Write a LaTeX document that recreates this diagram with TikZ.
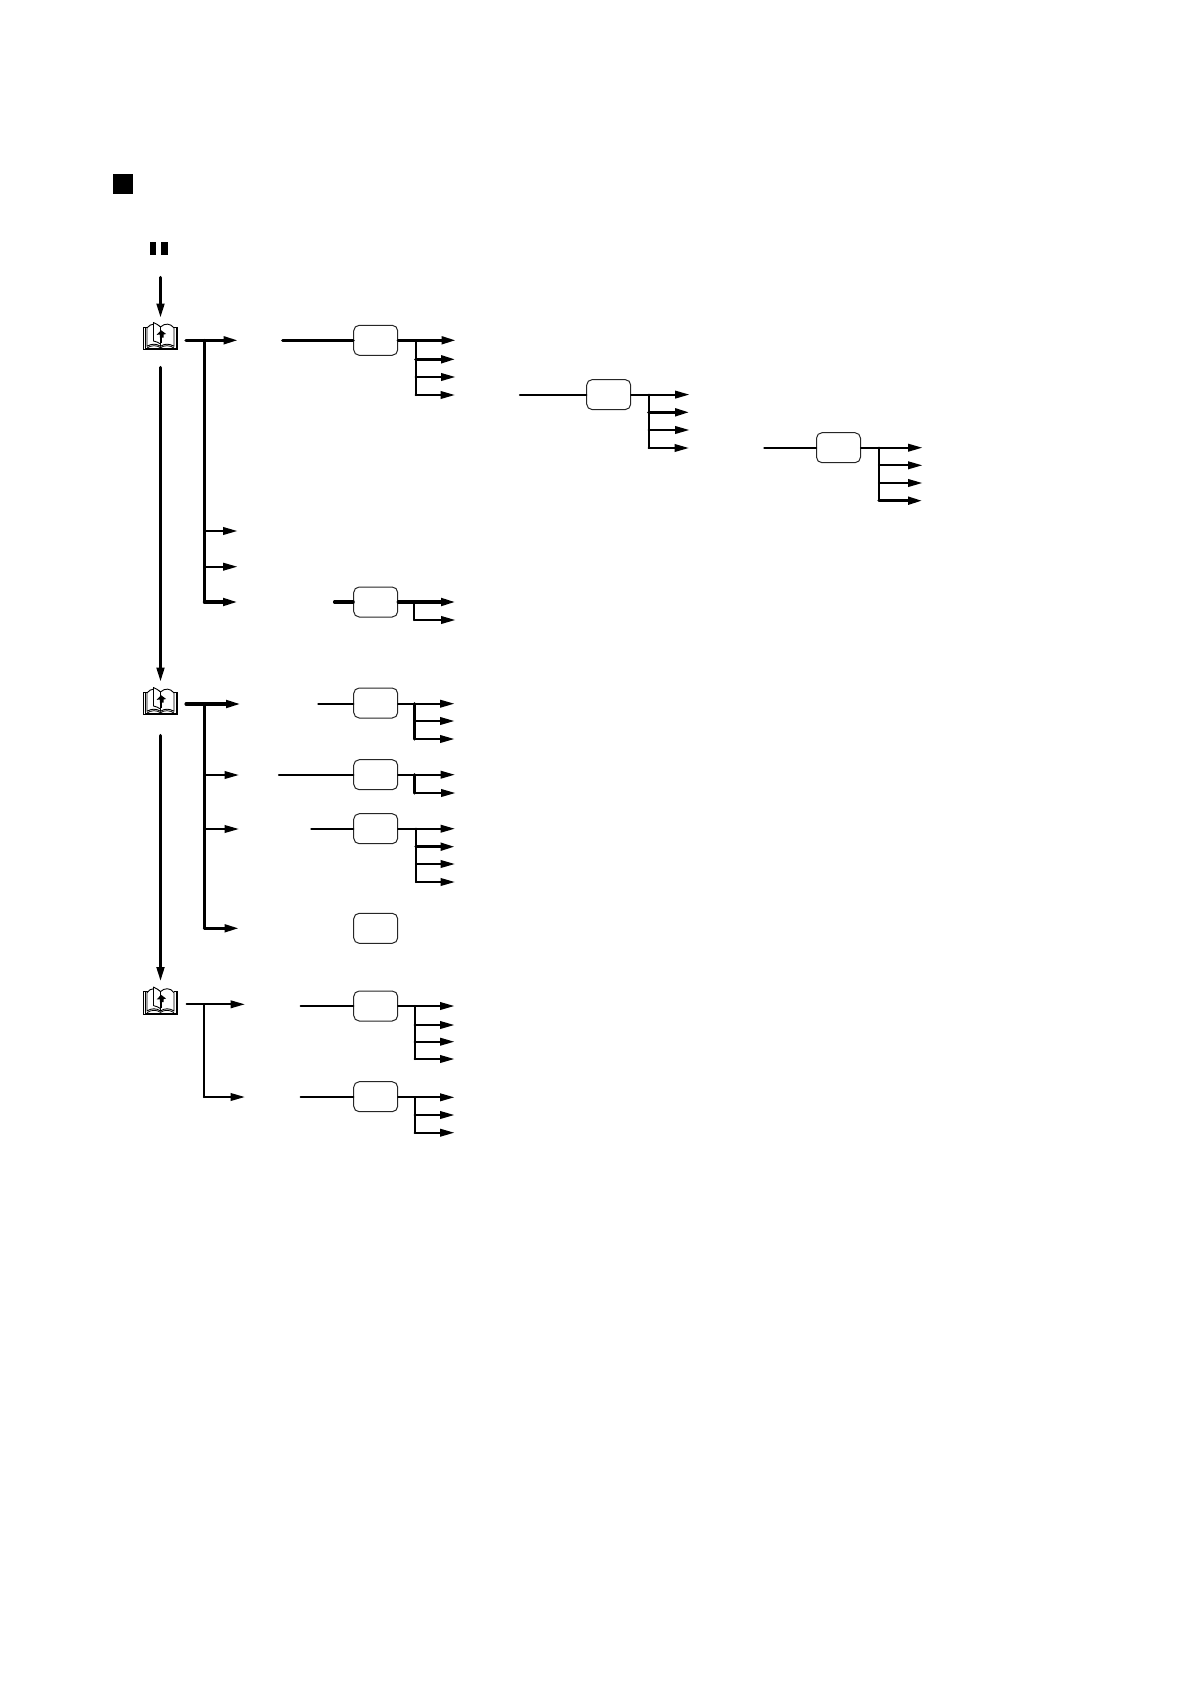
\documentclass[tikz,border=0pt]{standalone}
\usetikzlibrary{arrows.meta}
\tikzset{
  x=1pt,y=-1pt,
  conn/.style={line width=2.2pt,line cap=round,line join=round},
  connthick/.style={conn,line width=3.1pt},
  arrowconn/.style={conn,shorten >=-1pt,-{Triangle[length=14.5pt,width=7.5pt]}},
  arrowthick/.style={connthick,shorten >=-1pt,-{Triangle[length=14.5pt,width=7.5pt]}},
  panel/.style={draw=black!85,line width=1pt,rounded corners=5.5pt,fill=white,minimum width=44pt,minimum height=30pt,inner sep=0pt},
  solidmark/.style={fill=black,inner sep=0pt},
  bookframe/.style={inner sep=0pt,minimum width=34.4pt,minimum height=28pt},
  bookline/.style={line width=0.9pt,line join=round}
}
% draws the book glyph centred on a named node
\newcommand{\bookicon}[1]{%
  \begin{scope}[shift={(#1.center)}]
    \draw[line width=1pt] (-17,-8.7) rectangle (17,13.8);
    \draw[line width=.6pt] (-15.6,-8.7) -- (-15.6,12.6) -- (15.6,12.6) -- (15.6,-8.7);
    \fill[white] (-13,-11) rectangle (13,10);
    \draw[bookline,fill=white] (0,10.3) .. controls (-4,7.5) and (-9,7.5) .. (-13.5,10.3)
       -- (-13.5,-8) .. controls (-10,-13) and (-4,-13) .. (0,-9) -- cycle;
    \draw[bookline,fill=white] (0,10.3) .. controls (4,7.5) and (9,7.5) .. (13.5,10.3)
       -- (13.5,-8) .. controls (10,-13) and (4,-13) .. (0,-9) -- cycle;
    \draw[bookline,fill=white] (-7,-13.5) .. controls (-4.5,-12.5) and (-2,-11) .. (0,-9)
       -- (0,8) .. controls (-2,6.5) and (-4.5,5.5) .. (-7,5) -- cycle;
    \draw[line width=.8pt] (-13.5,12) .. controls (-9,9) and (-4,9) .. (0,11.7)
       .. controls (4,9) and (9,9) .. (13.5,12);
    \draw[line width=1.6pt] (0.8,-2) -- (0.8,7);
    \fill (-3.8,-1.2) -- (0.6,-5.8) -- (5.6,-2) -- (3.2,-1.5) -- (3.2,1.5) -- (-0.6,1.5) -- (-0.6,-1.4) -- cycle;
  \end{scope}%
}
% one outgoing arrow: #1 prefix, #2 junction x, #3 tip x, #4 y, #5 style
\newcommand{\outarrow}[5]{%
  \coordinate (#1s) at (#2,#4);
  \coordinate (#1t) at (#3,#4);
  \draw[#5] (#1s) -- (#1t);
}
\begin{document}
\begin{tikzpicture}
\useasboundingbox (0,0) rectangle (1191,1684);

% heading marks
\node[solidmark,minimum width=20pt,minimum height=20pt] (headsq) at (123,184) {};
\node[solidmark,minimum width=6.5pt,minimum height=13pt] (pauseA) at (153.2,248.5) {};
\node[solidmark,minimum width=6.5pt,minimum height=13pt] (pauseB) at (164.7,248.5) {};

% books
\node[bookframe] (bookA) at (160.5,336) {};
\node[bookframe] (bookB) at (160.5,701) {};
\node[bookframe] (bookC) at (160.5,1000.6) {};
\bookicon{bookA}
\bookicon{bookB}
\bookicon{bookC}

% main flow
\coordinate (m0) at (160.5,277.5);
\coordinate (m1) at (160.5,317);
\coordinate (m2) at (160.5,367.5);
\coordinate (m3) at (160.5,681);
\coordinate (m4) at (160.5,735.5);
\coordinate (m5) at (160.5,980.5);
\draw[arrowthick] (m0) -- (m1);
\draw[arrowthick] (m2) -- (m3);
\draw[arrowthick] (m4) -- (m5);

% panels
\node[panel] (p1) at (375.7,340.3) {};
\node[panel] (p2) at (608.7,394.6) {};
\node[panel] (p3) at (838.5,447.7) {};
\node[panel] (p4) at (375.7,602) {};
\node[panel] (p5) at (375.7,703) {};
\node[panel] (p6) at (375.7,774.7) {};
\node[panel] (p7) at (375.7,828.7) {};
\node[panel] (p8) at (375.7,928.3) {};
\node[panel] (p9) at (375.7,1006) {};
\node[panel] (p10) at (375.7,1096.7) {};

% first book branches
\outarrow{a1}{186}{237}{340.3}{arrowthick}
\coordinate (a0) at (204.3,340.3);
\coordinate (a9) at (204.3,602);
\draw[connthick] (a0) -- (a9);
\outarrow{a2}{204.3}{236.5}{531}{arrowconn}
\outarrow{a3}{204.3}{236.5}{566.7}{arrowconn}
\outarrow{a4}{204.3}{236.5}{602}{arrowthick}

% panel 1
\coordinate (l1) at (282.7,340.3);
\draw[connthick] (l1) -- (p1.west);
\coordinate (j1a) at (415.7,340.3);
\coordinate (j1b) at (415.7,395);
\draw[connthick] (p1.east) -- (j1a);
\draw[conn] (j1a) -- (j1b);
\outarrow{b1}{415.7}{455}{340.3}{arrowthick}
\outarrow{b2}{415.7}{454.5}{359.3}{arrowthick}
\outarrow{b3}{415.7}{454.5}{377}{arrowconn}
\outarrow{b4}{415.7}{454}{395}{arrowconn}

% panel 2
\coordinate (l2) at (520,394.6);
\draw[conn] (l2) -- (p2.west);
\coordinate (j2a) at (648.7,394.6);
\coordinate (j2b) at (648.7,448);
\draw[conn] (p2.east) -- (j2a);
\draw[conn] (j2a) -- (j2b);
\outarrow{c1}{648.7}{688.5}{394.6}{arrowconn}
\outarrow{c2}{648.7}{688.5}{412.3}{arrowthick}
\outarrow{c3}{648.7}{688.5}{430}{arrowconn}
\outarrow{c4}{648.7}{688}{448}{arrowconn}

% panel 3
\coordinate (l3) at (764.3,447.7);
\draw[conn] (l3) -- (p3.west);
\coordinate (j3a) at (879,447.7);
\coordinate (j3b) at (879,500.7);
\draw[conn] (p3.east) -- (j3a);
\draw[conn] (j3a) -- (j3b);
\outarrow{d1}{879}{921.5}{447.7}{arrowconn}
\outarrow{d2}{879}{921.5}{465.3}{arrowconn}
\outarrow{d3}{879}{921.5}{483}{arrowconn}
\outarrow{d4}{879}{921.5}{500.7}{arrowthick}

% panel 4
\coordinate (l4) at (334.5,602);
\draw[connthick] (l4) -- (p4.west);
\coordinate (j4a) at (414.3,602);
\coordinate (j4b) at (414.3,620);
\draw[connthick] (p4.east) -- (j4a);
\draw[conn] (j4a) -- (j4b);
\outarrow{e1}{414.3}{454.5}{602}{arrowthick}
\outarrow{e2}{414.3}{454.5}{620}{arrowconn}

% second book branches
\outarrow{f1}{186}{239.5}{704}{arrowthick}
\coordinate (f0) at (204.3,704);
\coordinate (f9) at (204.3,928.3);
\draw[connthick] (f0) -- (f9);
\outarrow{f2}{204.3}{238}{775}{arrowconn}
\outarrow{f3}{204.3}{238}{829}{arrowconn}
\outarrow{f4}{204.3}{238}{928.3}{arrowthick}

% panel 5
\coordinate (l5) at (318.3,703.7);
\draw[conn] (l5) -- (p5.west |- l5);
\coordinate (j5a) at (414.7,703.7);
\coordinate (j5b) at (414.7,739);
\draw[conn] (p5.east |- l5) -- (j5a);
\draw[connthick] (j5a) -- (j5b);
\outarrow{g1}{414.7}{453.5}{703.7}{arrowconn}
\outarrow{g2}{414.7}{453.5}{721}{arrowconn}
\outarrow{g3}{414.7}{453.5}{739}{arrowconn}

% panel 6
\coordinate (l6) at (279,774.7);
\draw[conn] (l6) -- (p6.west);
\coordinate (j6a) at (414.7,774.7);
\coordinate (j6b) at (414.7,793);
\draw[conn] (p6.east) -- (j6a);
\draw[connthick] (j6a) -- (j6b);
\outarrow{h1}{414.7}{454}{774.7}{arrowconn}
\outarrow{h2}{414.7}{454.5}{793}{arrowconn}

% panel 7
\coordinate (l7) at (311.3,828.7);
\draw[conn] (l7) -- (p7.west);
\coordinate (j7a) at (416,828.7);
\coordinate (j7b) at (416,882);
\draw[conn] (p7.east) -- (j7a);
\draw[conn] (j7a) -- (j7b);
\outarrow{i1}{416}{454}{828.7}{arrowconn}
\outarrow{i2}{416}{454}{846.7}{arrowthick}
\outarrow{i3}{416}{454}{864}{arrowconn}
\outarrow{i4}{416}{454}{882}{arrowconn}

% third book branches
\outarrow{k1}{186.7}{244}{1004.3}{arrowconn}
\coordinate (k0) at (204,1004.3);
\coordinate (k9) at (204,1097);
\draw[conn] (k0) -- (k9);
\outarrow{k2}{204}{244}{1097}{arrowconn}

% panel 9
\coordinate (l9) at (300.7,1006);
\draw[conn] (l9) -- (p9.west);
\coordinate (j9a) at (414.7,1006);
\coordinate (j9b) at (414.7,1059);
\draw[conn] (p9.east) -- (j9a);
\draw[conn] (j9a) -- (j9b);
\outarrow{n1}{414.7}{453.5}{1006}{arrowconn}
\outarrow{n2}{414.7}{453.5}{1025}{arrowconn}
\outarrow{n3}{414.7}{453.5}{1041.7}{arrowconn}
\outarrow{n4}{414.7}{453.5}{1059}{arrowconn}

% panel 10
\coordinate (l10) at (300.7,1097.3);
\draw[conn] (l10) -- (p10.west |- l10);
\coordinate (j10a) at (414.7,1097.3);
\coordinate (j10b) at (414.7,1132.7);
\draw[conn] (p10.east |- l10) -- (j10a);
\draw[conn] (j10a) -- (j10b);
\outarrow{o1}{414.7}{453.5}{1097.3}{arrowconn}
\outarrow{o2}{414.7}{453.5}{1115}{arrowconn}
\outarrow{o3}{414.7}{453.5}{1132.7}{arrowconn}
\end{tikzpicture}
\end{document}
